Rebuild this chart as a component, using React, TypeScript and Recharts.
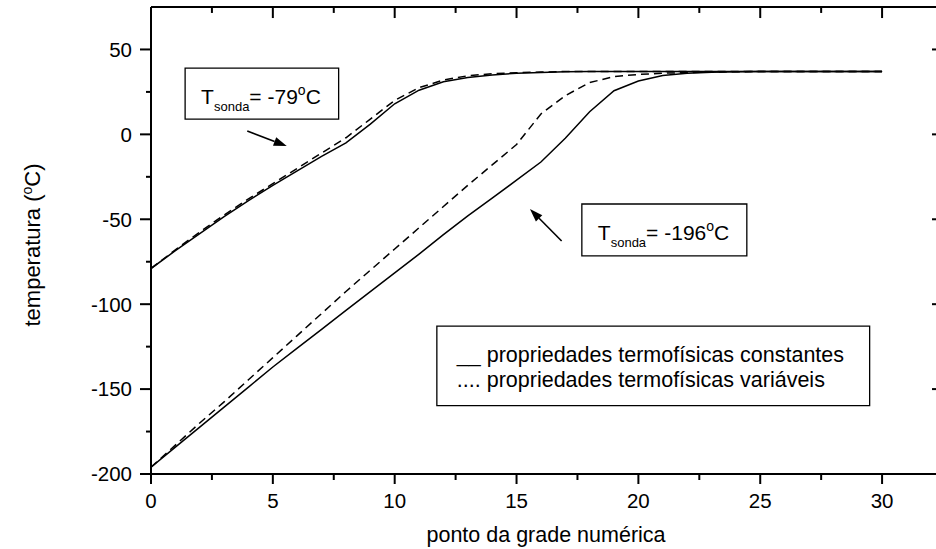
import { LineChart, Line, XAxis, YAxis, ReferenceArea, ReferenceLine, Label } from 'recharts'

const gridPoints = [0, 1, 2, 3, 4, 5, 6, 7, 8, 9, 10, 11, 12, 13, 14, 15, 16, 17, 18, 19, 20, 21, 22, 23, 24, 25, 26, 27, 28, 29, 30]

// probe at -79 C
const warmConst = [-79, -68.5, -58.5, -48.5, -39, -30, -21.5, -13, -5, 6, 18, 26, 31, 33.5, 35, 36, 36.5, 36.8, 37, 37, 37, 37, 37, 37, 37, 37, 37, 37, 37, 37, 37]
const warmVar = [-79, -68, -57.5, -47.5, -38, -29, -20, -11, -2, 9, 20, 27.5, 32, 34.5, 35.7, 36.3, 36.7, 37, 37, 37, 37, 37, 37, 37, 37, 37, 37, 37, 37, 37, 37]

// probe at -196 C
const coldConst = [-196, -184.2, -172.4, -160.6, -148.8, -137, -125.9, -114.8, -103.7, -92.6, -81.6, -70.5, -59, -48, -37.5, -27, -16.3, -2.3, 13.3, 25.7, 31.4, 34.7, 36, 36.6, 36.9, 37, 37, 37, 37, 37, 37]
const coldVar = [-196, -183, -170, -157.5, -144.5, -131.5, -118.5, -105.5, -92.5, -80, -67.5, -55, -42.5, -30, -18, -6, 12, 22.8, 30.5, 34, 35.3, 36, 36.4, 36.7, 36.9, 37, 37, 37, 37, 37, 37]

const xTicks = [0, 2.5, 5, 7.5, 10, 12.5, 15, 17.5, 20, 22.5, 25, 27.5, 30, 32.5]
const yTicks = [-200, -175, -150, -125, -100, -75, -50, -25, 0, 25, 50]

const legendLines = ['__ propriedades termofísicas constantes', '.... propriedades termofísicas variáveis']

const data = gridPoints.map((x, i) => ({
  x,
  warmConst: warmConst[i],
  warmVar: warmVar[i],
  coldConst: coldConst[i],
  coldVar: coldVar[i],
}))

const FONT = '"Liberation Sans", Arial, sans-serif'
const X_MAX = 32.5
const Y_MIN = -200
const Y_MAX = 75

function BottomTick({ x, y, payload }: any) {
  const major = payload.value % 5 === 0
  return (
    <g>
      <line x1={x} x2={x} y1={y} y2={y + (major ? 10 : 6)} stroke="#000" strokeWidth={2} />
      {major && (
        <text x={x} y={y + 34} textAnchor="middle" fontSize={20.5} fill="#000">
          {payload.value}
        </text>
      )}
    </g>
  )
}

function LeftTick({ x, y, payload }: any) {
  const major = payload.value % 50 === 0
  return (
    <g>
      <line x1={x - (major ? 11 : 5)} x2={x} y1={y} y2={y} stroke="#000" strokeWidth={2} />
      {major && (
        <text x={x - 19} y={y} dy="0.36em" textAnchor="end" fontSize={20.5} fill="#000">
          {payload.value}
        </text>
      )}
    </g>
  )
}

function RightTick({ x, y, payload }: any) {
  const major = payload.value % 50 === 0
  return <line x1={x - (major ? 11 : 5)} x2={x} y1={y} y2={y} stroke="#000" strokeWidth={2} />
}

function Arrow({ x1, y1, x2, y2 }: any) {
  const dx = x2 - x1
  const dy = y2 - y1
  const len = Math.sqrt(dx * dx + dy * dy)
  const ux = dx / len
  const uy = dy / len
  const bx = x2 - ux * 13
  const by = y2 - uy * 13
  const pts = `${x2},${y2} ${bx - uy * 4.5},${by + ux * 4.5} ${bx + uy * 4.5},${by - ux * 4.5}`
  return (
    <g>
      <line x1={x1} y1={y1} x2={bx} y2={by} stroke="#000" strokeWidth={1.6} />
      <polygon points={pts} fill="#000" />
    </g>
  )
}

function probeLabel(temp: string) {
  return ({ viewBox }: any) => (
    <text x={viewBox.x + 16} y={viewBox.y + 36} fontSize={21} fill="#000">
      T
      <tspan dy={7} fontSize={13}>sonda</tspan>
      <tspan dy={-7}>= {temp}</tspan>
      <tspan dy={-9} fontSize={14}>o</tspan>
      <tspan dy={9}>C</tspan>
    </text>
  )
}

function LegendText({ viewBox }: any) {
  return (
    <g>
      {legendLines.map((t, i) => (
        <text key={i} x={viewBox.x + 20} y={viewBox.y + 36 + i * 25} fontSize={21.5} fill="#000">
          {t}
        </text>
      ))}
    </g>
  )
}

function YTitle() {
  return (
    <text transform="translate(40,245) rotate(-90)" textAnchor="middle" fontSize={22} fill="#000">
      temperatura (<tspan dy={-8} fontSize={14}>o</tspan>
      <tspan dy={8}>C)</tspan>
    </text>
  )
}

function XTitle() {
  return (
    <text x={546} y={542} textAnchor="middle" fontSize={21.5} fill="#000">
      ponto da grade numérica
    </text>
  )
}

const axisLine = { stroke: '#000', strokeWidth: 2 }

export default function App() {
  return (
    <div style={{ position: 'absolute', left: 0, top: 0, width: 936, height: 549, overflow: 'hidden', fontFamily: FONT, background: '#fff' }}>
      <LineChart width={960} height={549} data={data} margin={{ top: 7, right: 0, left: 0, bottom: 0 }}>
        <XAxis
          dataKey="x"
          type="number"
          domain={[0, X_MAX]}
          ticks={xTicks}
          allowDataOverflow
          height={75}
          axisLine={axisLine}
          tickLine={false}
          tickSize={0}
          tickMargin={0}
          tick={<BottomTick />}
          interval={0}
          label={<Label content={XTitle} />}
        />
        <YAxis
          type="number"
          domain={[Y_MIN, Y_MAX]}
          ticks={yTicks}
          allowDataOverflow
          width={151}
          axisLine={axisLine}
          tickLine={false}
          tickSize={0}
          tickMargin={0}
          tick={<LeftTick />}
          interval={0}
          label={<Label content={YTitle} />}
        />
        <YAxis
          yAxisId="right"
          orientation="right"
          type="number"
          domain={[Y_MIN, Y_MAX]}
          ticks={yTicks}
          allowDataOverflow
          width={17}
          axisLine={axisLine}
          tickLine={false}
          tickSize={0}
          tickMargin={0}
          tick={<RightTick />}
          interval={0}
        />
        {/* top frame line and its inward ticks */}
        <ReferenceLine y={Y_MAX} stroke="#000" strokeWidth={2} ifOverflow="visible" />
        {xTicks.map((t) => (
          <ReferenceLine
            key={`top-${t}`}
            segment={[{ x: t, y: Y_MAX }, { x: t, y: Y_MAX - (t % 5 === 0 ? 6.5 : 3.5) }]}
            stroke="#000"
            strokeWidth={2}
            ifOverflow="visible"
          />
        ))}
        <ReferenceArea x1={1.4} x2={7.7} y1={9} y2={39} fill="none" stroke="#000" strokeWidth={1.3} label={<Label content={probeLabel('-79')} />} />
        <ReferenceArea x1={17.68} x2={24.45} y1={-71.6} y2={-41} fill="none" stroke="#000" strokeWidth={1.3} label={<Label content={probeLabel('-196')} />} />
        <ReferenceArea x1={11.73} x2={29.49} y1={-159.7} y2={-112.9} fill="none" stroke="#000" strokeWidth={1.3} label={<Label content={LegendText} />} />
        <ReferenceLine segment={[{ x: 3.95, y: 2 }, { x: 5.57, y: -6.9 }]} shape={Arrow} />
        <ReferenceLine segment={[{ x: 16.85, y: -62.8 }, { x: 15.55, y: -44 }]} shape={Arrow} />
        <Line dataKey="warmConst" type="linear" stroke="#000" strokeWidth={1.5} dot={false} isAnimationActive={false} />
        <Line dataKey="warmVar" type="linear" stroke="#000" strokeWidth={1.5} strokeDasharray="8 5" dot={false} isAnimationActive={false} />
        {/* the right axis has the same domain, so these share the scale */}
        <Line yAxisId="right" dataKey="coldConst" type="linear" stroke="#000" strokeWidth={1.5} dot={false} isAnimationActive={false} />
        <Line yAxisId="right" dataKey="coldVar" type="linear" stroke="#000" strokeWidth={1.5} strokeDasharray="8 5" dot={false} isAnimationActive={false} />
      </LineChart>
    </div>
  )
}
